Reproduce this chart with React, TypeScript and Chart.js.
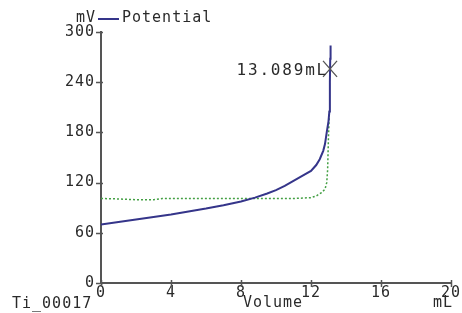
import React, { useEffect, useRef } from "react";
import { Chart, registerables } from "chart.js";

Chart.register(...registerables);

const volumes = [0, 1, 2, 3, 4, 5, 6, 7, 8, 8.8, 9.5, 10, 10.5, 11, 11.5, 12, 12.3, 12.5, 12.7, 12.8, 12.9, 13.0, 13.05, 13.08, 13.1, 13.12];
const potentials = [70, 73, 76, 79, 82, 85.5, 89, 93, 97.5, 102, 107, 111, 116, 122, 128, 134, 141, 148, 158, 166, 180, 193, 205, 240, 268, 284];

const derivVolumes = [0, 1, 2, 3, 3.5, 4, 6, 8, 10, 11, 12, 12.3, 12.6, 12.8, 12.9, 12.95, 13.0, 13.05];
const derivValues = [101, 100.5, 99.5, 99.5, 101, 101, 101, 101, 101, 101, 102, 104, 108, 112, 120, 135, 175, 205];

const xTicks = [0, 4, 8, 12, 16, 20];
const yTicks = [0, 60, 120, 180, 240, 300];

const endpointVolume = 13.089;
const endpointPotential = 256;
const endpointLabel = "13.089mL";

const yUnit = "mV";
const xUnit = "mL";
const xTitle = "Volume";
const seriesName = "Potential";
const sampleName = "Ti_00017";

const FONT = '15px "DejaVu Sans Mono"';
const TEXT = "#2a2a2a";
const BLUE = "#35358a";
const GREEN = "#44a044";
const AXIS = "#555555";

function setSpacing(chart: any) {
  try {
    (chart.ctx as any).letterSpacing = "1px";
  } catch (e) {}
}

const decorPlugin = {
  id: "decor",
  beforeLayout(chart: any) {
    setSpacing(chart);
  },
  beforeDraw(chart: any) {
    setSpacing(chart);
  },
  afterDraw(chart: any) {
    const ctx = chart.ctx;
    const xs = chart.scales.x;
    const ys = chart.scales.y;
    const area = chart.chartArea;
    ctx.save();
    (ctx as any).letterSpacing = "1px";
    // tick marks
    ctx.strokeStyle = AXIS;
    ctx.lineWidth = 1.5;
    ctx.beginPath();
    yTicks.forEach((v) => {
      const py = Math.round(ys.getPixelForValue(v)) + 0.5;
      ctx.moveTo(area.left - 5, py);
      ctx.lineTo(area.left + 2, py);
    });
    xTicks.forEach((v) => {
      const px = Math.round(xs.getPixelForValue(v)) + 0.5;
      ctx.moveTo(px, area.bottom - 3);
      ctx.lineTo(px, area.bottom + 4);
    });
    ctx.stroke();

    ctx.fillStyle = TEXT;
    ctx.font = FONT;
    ctx.textBaseline = "alphabetic";
    // y unit
    ctx.textAlign = "right";
    ctx.fillText(yUnit, 96, 22);
    // legend
    ctx.strokeStyle = BLUE;
    ctx.lineWidth = 2;
    ctx.beginPath();
    ctx.moveTo(98, 19);
    ctx.lineTo(119, 19);
    ctx.stroke();
    ctx.textAlign = "left";
    ctx.fillText(seriesName, 122, 22);
    // x title and unit
    ctx.textAlign = "center";
    ctx.fillText(xTitle, 273, 307);
    ctx.fillText(xUnit, 443, 307);
    ctx.textAlign = "left";
    ctx.fillText(sampleName, 12, 308);

    // endpoint marker
    const mx = xs.getPixelForValue(endpointVolume);
    const my = ys.getPixelForValue(endpointPotential);
    ctx.strokeStyle = "#555555";
    ctx.lineWidth = 1.3;
    ctx.beginPath();
    ctx.moveTo(mx - 7, my - 8);
    ctx.lineTo(mx + 7, my + 8);
    ctx.moveTo(mx + 7, my - 8);
    ctx.lineTo(mx - 7, my + 8);
    ctx.stroke();
    ctx.font = '16px "DejaVu Sans Mono"';
    (ctx as any).letterSpacing = "1.8px";
    ctx.textAlign = "right";
    ctx.fillText(endpointLabel, mx - 2, my + 6);
    ctx.restore();
  },
};

export default function App() {
  const ref = useRef<HTMLCanvasElement>(null);
  useEffect(() => {
    if (!ref.current) return;
    const chart = new Chart(ref.current, {
      type: "line",
      data: {
        datasets: [
          {
            label: seriesName,
            data: volumes.map((v, i) => ({ x: v, y: potentials[i] })),
            borderColor: BLUE,
            borderWidth: 2,
            pointRadius: 0,
            tension: 0,
            fill: false,
          },
          {
            label: "dE/dV",
            data: derivVolumes.map((v, i) => ({ x: v, y: derivValues[i] })),
            borderColor: GREEN,
            borderWidth: 1.5,
            borderDash: [2, 2],
            pointRadius: 0,
            tension: 0,
            fill: false,
          },
        ],
      },
      options: {
        animation: false,
        responsive: false,
        layout: { padding: { top: 32, right: 11, left: 0, bottom: 0 } },
        plugins: { legend: { display: false }, tooltip: { enabled: false } },
        scales: {
          x: {
            type: "linear",
            min: 0,
            max: 20,
            afterFit: (s: any) => {
              s.height = 30;
            },
            afterBuildTicks: (s: any) => {
              s.ticks = xTicks.map((v) => ({ value: v }));
            },
            grid: { display: false, drawTicks: false },
            border: { display: true, color: AXIS, width: 2 },
            ticks: { autoSkip: false, maxRotation: 0, padding: 1, color: TEXT, font: { family: "DejaVu Sans Mono", size: 15 } },
          },
          y: {
            type: "linear",
            min: 0,
            max: 300,
            afterFit: (s: any) => {
              s.width = 101;
            },
            afterBuildTicks: (s: any) => {
              s.ticks = yTicks.map((v) => ({ value: v }));
            },
            grid: { display: false, drawTicks: false },
            border: { display: true, color: AXIS, width: 2 },
            ticks: { autoSkip: false, padding: 6, color: TEXT, font: { family: "DejaVu Sans Mono", size: 15 } },
          },
        },
      },
      plugins: [decorPlugin],
    } as any);
    return () => chart.destroy();
  }, []);
  return (
    <div style={{ position: "absolute", left: 0, top: 0, width: 462, height: 313, background: "#fff" }}>
      <canvas ref={ref} width={462} height={313} />
    </div>
  );
}
